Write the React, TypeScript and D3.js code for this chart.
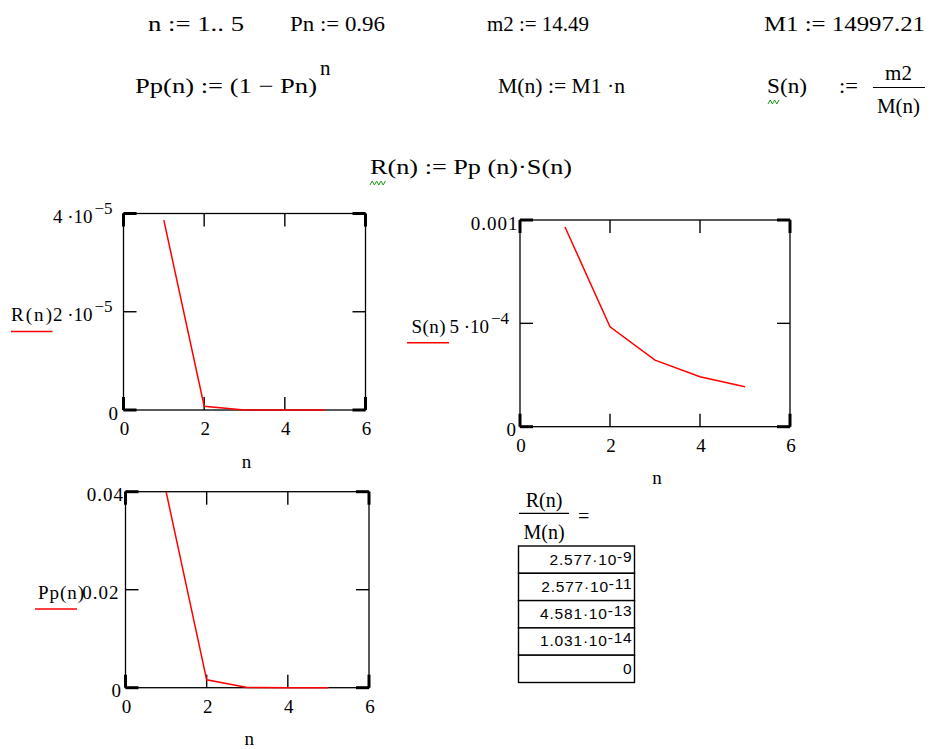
import React, { useEffect } from "react";
import * as d3 from "d3";

// Worksheet values: n = 1..5
const nValues = [1, 2, 3, 4, 5];
// R(n) = Pp(n) * S(n)
const rValues = [3.865e-5, 7.73e-7, 2.061e-8, 6.184e-10, 1.979e-11];
// S(n) = m2 / M(n)
const sValues = [9.662e-4, 4.831e-4, 3.221e-4, 2.415e-4, 1.932e-4];
// Pp(n) = (1 - Pn)^n
const ppValues = [0.04, 0.0016, 6.4e-5, 2.56e-6, 1.024e-7];

const xTicks = [0, 2, 4, 6];

const rTicks = [0, 2e-5, 4e-5];
const rTickText = ["0", "2 \u00b710", "4 \u00b710"];
const rTickExp = ["", "\u22125", "\u22125"];

const sTicks = [0, 5e-4, 1e-3];
const sTickText = ["0", "5 \u00b710", "0.001"];
const sTickExp = ["", "\u22124", ""];

const ppTicks = [0, 0.02, 0.04];
const ppTickText = ["0", "0.02", "0.04"];
const ppTickExp = ["", "", ""];

// R(n)/M(n) result table
const ratioMantissa = ["2.577\u00b710", "2.577\u00b710", "4.581\u00b710", "1.031\u00b710", "0"];
const ratioExponent = ["-9", "-11", "-13", "-14", ""];

const SERIF = "'Liberation Serif', 'Times New Roman', serif";
const SANS = "'Liberation Sans', Arial, sans-serif";

type TProps = {
  x: number;
  y: number;
  size?: number;
  anchor?: "start" | "middle" | "end";
  spacing?: number;
  len?: number;
  stretch?: boolean;
  children: React.ReactNode;
};

function T({ x, y, size = 21, anchor = "start", spacing, len, stretch, children }: TProps) {
  return (
    <text
      x={x}
      y={y}
      fontFamily={SERIF}
      fontSize={size}
      textAnchor={anchor}
      letterSpacing={spacing}
      textLength={len}
      lengthAdjust={len ? (stretch ? "spacingAndGlyphs" : "spacing") : undefined}
    >
      {children}
    </text>
  );
}

type PlotProps = {
  left: number;
  right: number;
  top: number;
  bottom: number;
  yMax: number;
  values: number[];
  ticks: number[];
  tickText: string[];
  tickExp: string[];
  labelEnds: number[];
  title: string;
  titleX: number;
  titleW: number;
  underline: [number, number, number];
  nY: number;
};

function Plot(p: PlotProps) {
  const x = d3.scaleLinear().domain([0, 6]).range([p.left, p.right]);
  const y = d3.scaleLinear().domain([0, p.yMax]).range([p.bottom, p.top]);
  const line = d3
    .line<number>()
    .x((_, i) => x(nValues[i]))
    .y((d) => y(d));
  const tl = 13;
  const cx = (p.left + p.right) / 2;
  const midTick = p.ticks[1];
  return (
    <g>
      <rect
        x={p.left}
        y={p.top}
        width={p.right - p.left}
        height={p.bottom - p.top}
        fill="none"
        stroke="#000"
        strokeWidth={1.3}
      />
      {xTicks.map((t, i) => {
        const end = i === 0 || i === xTicks.length - 1;
        const w = end ? 3 : 1.4;
        return (
          <g key={"xt" + t}>
            <line x1={x(t)} x2={x(t)} y1={p.bottom} y2={p.bottom - tl} stroke="#000" strokeWidth={w} />
            <line x1={x(t)} x2={x(t)} y1={p.top} y2={p.top + tl} stroke="#000" strokeWidth={w} />
            <T x={x(t) + 1} y={p.bottom + 25} size={19} anchor="middle">
              {t}
            </T>
          </g>
        );
      })}
      {p.ticks.map((t, i) => {
        const end = i === 0 || i === p.ticks.length - 1;
        const w = end ? 3 : 1.4;
        const exp = p.tickExp[i];
        return (
          <g key={"yt" + i}>
            <line x1={p.left} x2={p.left + tl} y1={y(t)} y2={y(t)} stroke="#000" strokeWidth={w} />
            <line x1={p.right} x2={p.right - tl} y1={y(t)} y2={y(t)} stroke="#000" strokeWidth={w} />
            {exp ? (
              <g>
                <T x={p.left - 31} y={y(t) + 9.5} size={19} anchor="end">
                  {p.tickText[i]}
                </T>
                <T x={p.left - 29} y={y(t) + 0.5} size={17}>
                  {exp}
                </T>
              </g>
            ) : (
              <T x={p.labelEnds[i]} y={y(t) + 9.5} size={19} anchor="end" spacing={1}>
                {p.tickText[i]}
              </T>
            )}
          </g>
        );
      })}
      <path d={line(p.values) || ""} fill="none" stroke="#ff0000" strokeWidth={1.5} />
      <T x={p.titleX} y={y(midTick) + 9.5} size={19} len={p.titleW}>
        {p.title}
      </T>
      <line
        x1={p.underline[0]}
        x2={p.underline[1]}
        y1={p.underline[2]}
        y2={p.underline[2]}
        stroke="#ff0000"
        strokeWidth={1.5}
      />
      <T x={cx + 2} y={p.nY} size={19} anchor="middle">
        n
      </T>
    </g>
  );
}

function Squiggle({ x, y, w }: { x: number; y: number; w: number }) {
  const pts: [number, number][] = [];
  const step = 2.2;
  for (let i = 0; i * step <= w; i++) pts.push([x + i * step, i % 2 === 0 ? y + 4 : y]);
  return <path d={d3.line()(pts) || ""} fill="none" stroke="#1a9a1a" strokeWidth={1} />;
}

export default function App() {
  useEffect(() => {
    document.body.style.margin = "0";
  }, []);

  const rowTop = 546;
  const rowH = 27.3;
  const tableLeft = 518.5;
  const tableRight = 634.5;

  return (
    <svg width={938} height={749} viewBox="0 0 938 749" style={{ display: "block", background: "#fff" }}>
      <rect width={938} height={749} fill="#fff" />

      {/* definitions */}
      <T x={148} y={31} len={96} stretch>n := 1.. 5</T>
      <T x={290} y={31} len={95} stretch>Pn := 0.96</T>
      <T x={487} y={31} len={102} stretch>m2 := 14.49</T>
      <T x={764} y={31} len={161} stretch>M1 := 14997.21</T>

      <T x={135} y={93} len={182} stretch>{"Pp(n) := (1 \u2212 Pn)"}</T>
      <T x={320} y={75}>n</T>

      <T x={498} y={93} len={127} stretch>{"M(n) := M1 \u00b7n"}</T>

      <T x={767} y={93} len={40} stretch>S(n)</T>
      <T x={839} y={93} len={19} stretch>:=</T>
      <Squiggle x={768} y={100} w={13} />
      <T x={898.5} y={80} anchor="middle">m2</T>
      <line x1={873} x2={925} y1={87.5} y2={87.5} stroke="#000" strokeWidth={1.2} />
      <T x={898.5} y={113} anchor="middle">M(n)</T>

      <T x={370} y={174} len={202} stretch>{"R(n) := Pp (n)\u00b7S(n)"}</T>
      <Squiggle x={370} y={181} w={17} />

      {/* R(n) plot */}
      <Plot
        left={123.5}
        right={365.5}
        top={213.5}
        bottom={410}
        yMax={4e-5}
        values={rValues}
        ticks={rTicks}
        tickText={rTickText}
        tickExp={rTickExp}
        labelEnds={[119, 111, 112]}
        title="R(n)"
        titleX={11}
        titleW={41}
        underline={[11, 52.5, 331.5]}
        nY={468}
      />

      {/* S(n) plot */}
      <Plot
        left={520}
        right={790}
        top={220}
        bottom={426.7}
        yMax={1e-3}
        values={sValues}
        ticks={sTicks}
        tickText={sTickText}
        tickExp={sTickExp}
        labelEnds={[517, 490, 518.5]}
        title="S(n)"
        titleX={411.5}
        titleW={34}
        underline={[407, 449, 342.7]}
        nY={484}
      />

      {/* Pp(n) plot */}
      <Plot
        left={125.5}
        right={369}
        top={491.7}
        bottom={687.7}
        yMax={0.04}
        values={ppValues}
        ticks={ppTicks}
        tickText={ppTickText}
        tickExp={ppTickExp}
        labelEnds={[122, 119.5, 124]}
        title="Pp(n)"
        titleX={38}
        titleW={46}
        underline={[35, 77, 609]}
        nY={745}
      />

      {/* R(n)/M(n) = table */}
      <T x={544} y={506.5} size={20} anchor="middle">R(n)</T>
      <line x1={519} x2={569} y1={513.3} y2={513.3} stroke="#000" strokeWidth={1.2} />
      <T x={544} y={539} size={20} anchor="middle">M(n)</T>
      <T x={578} y={523} size={20}>=</T>

      {ratioMantissa.map((m, i) => (
        <g key={"row" + i}>
          <rect
            x={tableLeft}
            y={rowTop + i * rowH}
            width={tableRight - tableLeft}
            height={rowH}
            fill="#fff"
            stroke="#000"
            strokeWidth={1.4}
          />
          <text
            x={632.5}
            y={rowTop + i * rowH + 18.5}
            textAnchor="end"
            fontFamily={SANS}
            fontSize={15.5}
            letterSpacing={0.8}
          >
            {m}
            {ratioExponent[i] ? <tspan dy={-3}>{ratioExponent[i]}</tspan> : null}
          </text>
        </g>
      ))}
    </svg>
  );
}
